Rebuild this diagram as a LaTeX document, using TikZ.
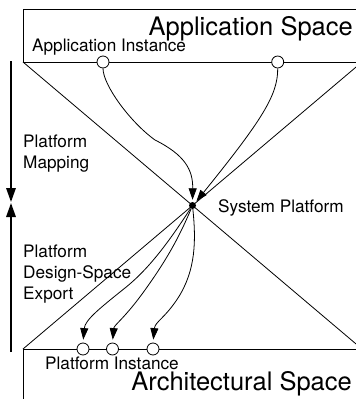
\documentclass[tikz,border=0pt]{standalone}
\usepackage{fontspec}
\setmainfont{TeX Gyre Heros}
\usetikzlibrary{arrows.meta}

\begin{document}
\begin{tikzpicture}[x=1pt,y=-1pt,
  frame/.style={line width=1pt},
  diag/.style={line width=0.8pt},
  port/.style={circle,draw,fill=white,line width=0.8pt,minimum size=12pt,inner sep=0pt},
  hub/.style={circle,fill=black,minimum size=7pt,inner sep=0pt},
  flow/.style={line width=0.8pt,-{Triangle[length=11.5pt,width=8pt]},shorten >=2pt},
  axis/.style={line width=1.6pt,-{Triangle[length=14pt,width=9.5pt]}},
  small/.style={font=\fontsize{17.2}{20}\selectfont,inner sep=0pt},
  big/.style={font=\fontsize{25.5}{30}\selectfont,inner sep=0pt}]

\useasboundingbox (0,0) rectangle (356,399);
\clip (0,0) rectangle (356,399);

% application space box (open to the right)
\draw[frame] (380,9.5) -- (23,9.5) -- (23,62) -- (380,62);
% architectural space box (open to the right and below)
\draw[frame] (380,349) -- (23,349) -- (23,420);

% the two cones meeting at the system platform
\draw[diag] (23,62) -- (362,349);
\draw[diag] (23,349) -- (362,62);

% nodes
\node[hub] (sp) at (192.5,205.5) {};
\node[port] (a1) at (103,62) {};
\node[port] (a2) at (277.7,62) {};
\node[port] (b1) at (83,349) {};
\node[port] (b2) at (112.5,349) {};
\node[port] (b3) at (153,349) {};

% mapping of application instances onto the platform
\draw[flow] (a1.south) .. controls (103,85) and (130,122) .. (155,140)
  .. controls (185,155) and (193,170) .. (sp.north);
\draw[flow] (a2.south) .. controls (278,95) and (262,120) .. (sp.north east);

% export of the platform design space
\draw[flow,shorten >=3pt] (sp) .. controls (170,240) and (150,268) .. (125,288)
  .. controls (100,308) and (85,320) .. (b1.north);
\draw[flow,shorten >=3pt] (sp) .. controls (178,240) and (165,262) .. (145,290)
  .. controls (125,318) and (114,325) .. (b2.north);
\draw[flow,shorten >=3pt] (sp) .. controls (196,240) and (196,270) .. (178,298)
  .. controls (165,318) and (155,322) .. (b3.north);

% side arrows
\coordinate (m0) at (11,61);
\coordinate (m1) at (11,202);
\coordinate (e0) at (11,352);
\coordinate (e1) at (11,203);
\draw[axis] (m0) -- (m1);
\draw[axis] (e0) -- (e1);

% labels
\node[big,anchor=base east] (tapp) at (353,35.5) {Application Space};
\node[small,anchor=base west] (tai) at (32,51.5) {Application Instance};
\node[big,anchor=base east] (tarch) at (352,390) {Architectural Space};
\node[small,anchor=base west] (tpi) at (45,369.5) {Platform Instance};
\node[small,anchor=base west] (tsp) at (218,212) {System Platform};

\node[small,anchor=base west] (pm1) at (23,147) {Platform};
\node[small,anchor=base west] (pm2) at (23,168) {Mapping};
\node[small,anchor=base west] (pe1) at (23,257) {Platform};
\node[small,anchor=base west] (pe2) at (23,278) {Design-Space};
\node[small,anchor=base west] (pe3) at (23,299) {Export};
\end{tikzpicture}
\end{document}
